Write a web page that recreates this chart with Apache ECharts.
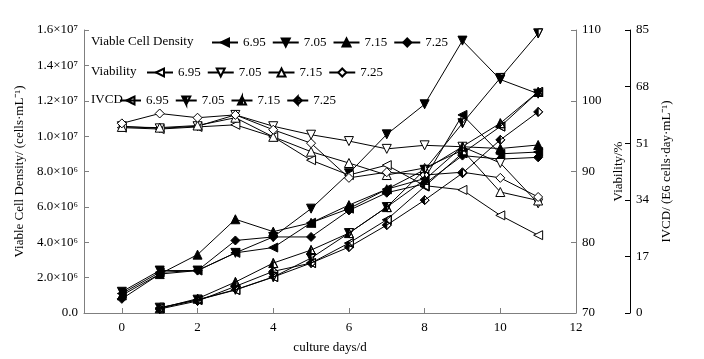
<!doctype html>
<html><head><meta charset="utf-8" />
<style>
  html,body,#app{margin:0;padding:0;width:704px;height:359px;background:#ffffff}
</style>
<script src="https://cdn.jsdelivr.net/npm/echarts@6/dist/echarts.min.js"></script>
</head><body><div id="app"></div>
<script>
// culture days
const days = [0, 1, 2, 3, 4, 5, 6, 7, 8, 9, 10, 11];
const phLevels = ['6.95', '7.05', '7.15', '7.25'];

// viable cell density, x10^6 cells/mL
const vcd695 = [1.1, 2.3, 2.4, 3.4, 3.7, 5.1, 5.9, 7.0, 7.6, 11.2, 9.0, 9.1];
const vcd705 = [1.2, 2.4, 2.4, 3.4, 4.3, 5.9, 7.9, 10.1, 11.8, 15.4, 13.2, 12.4];
const vcd715 = [1.0, 2.2, 3.3, 5.3, 4.6, 5.1, 6.1, 7.0, 8.1, 9.4, 9.3, 9.5];
const vcd725 = [0.8, 2.2, 2.4, 4.1, 4.3, 4.3, 5.8, 6.8, 7.3, 8.9, 8.7, 8.8];

// viability, %
const via695 = [96.2, 96.0, 96.3, 96.6, 94.9, 91.6, 89.5, 90.9, 88.0, 87.4, 83.8, 81.0];
const via705 = [96.4, 96.1, 96.4, 98.0, 96.4, 95.2, 94.3, 93.2, 93.7, 93.5, 91.2, 85.5];
const via715 = [96.3, 96.2, 96.5, 97.6, 94.9, 92.8, 91.2, 89.5, 90.5, 93.0, 87.1, 85.9];
const via725 = [96.8, 98.2, 97.6, 98.0, 95.9, 94.0, 89.1, 89.9, 89.5, 89.9, 89.1, 86.4];

// IVCD, E6 cells·day/mL (no value on day 0)
const ivcd695 = [null, 1.5, 3.9, 6.9, 10.8, 15.0, 21.0, 28.0, 38.0, 48.0, 56.0, 66.4];
const ivcd705 = [null, 1.6, 4.0, 7.0, 10.8, 16.5, 24.0, 31.8, 43.0, 57.0, 70.6, 84.0];
const ivcd715 = [null, 1.4, 4.3, 9.3, 15.0, 18.9, 24.0, 31.8, 40.0, 50.0, 57.0, 66.4];
const ivcd725 = [null, 1.2, 3.6, 8.0, 12.5, 15.0, 19.8, 26.4, 33.9, 42.0, 52.0, 60.4];

// tick labels
const xTicks = [0, 2, 4, 6, 8, 10, 12];
const vcdTickLabels = ['0.0', '2.0×10⁶', '4.0×10⁶', '6.0×10⁶', '8.0×10⁶', '1.0×10⁷', '1.2×10⁷', '1.4×10⁷', '1.6×10⁷'];

const FONT = "'Liberation Serif', 'Times New Roman', serif";

// marker shapes: filled/open use the outline; half = left half filled, right half outline only
const shapes = {
  left: 'path://M0,5L10,0L10,10Z',
  down: 'path://M0,0L10,0L5,10Z',
  up: 'path://M5,0L10,10L0,10Z',
  diamond: 'path://M5,0L10,5L5,10L0,5Z'
};
const halfShapes = {
  left: 'path://M0,5L5,2.5L5,7.5Z M5,2.5L10,0L10,10L5,7.5L10,10L10,0L5,2.5',
  down: 'path://M0,0L5,0L5,10Z M5,0L10,0L5,10L10,0L5,0',
  up: 'path://M5,0L5,10L0,10Z M5,0L10,10L5,10L10,10L5,0',
  diamond: 'path://M5,0L5,10L0,5Z M5,0L10,5L5,10L10,5L5,0'
};
const shapeOrder = ['left', 'down', 'up', 'diamond'];

function mk(group, i, arr, yIdx, kind) {
  const key = shapeOrder[i];
  return {
    name: group + ' ' + phLevels[i],
    type: 'line',
    yAxisIndex: yIdx,
    data: days.map((d, k) => [d, arr[k]]),
    symbol: kind === 'half' ? halfShapes[key] : shapes[key],
    symbolSize: 9,
    showSymbol: true,
    lineStyle: { color: '#000', width: 1 },
    itemStyle: { color: kind === 'open' ? '#fff' : '#000', borderColor: '#000', borderWidth: 1 },
    emphasis: { disabled: true }
  };
}

const series = [
  mk('VCD', 0, vcd695, 0, 'fill'), mk('VCD', 1, vcd705, 0, 'fill'), mk('VCD', 2, vcd715, 0, 'fill'), mk('VCD', 3, vcd725, 0, 'fill'),
  mk('VIA', 0, via695, 1, 'open'), mk('VIA', 1, via705, 1, 'open'), mk('VIA', 2, via715, 1, 'open'), mk('VIA', 3, via725, 1, 'open'),
  mk('IVCD', 0, ivcd695, 2, 'half'), mk('IVCD', 1, ivcd705, 2, 'half'), mk('IVCD', 2, ivcd715, 2, 'half'), mk('IVCD', 3, ivcd725, 2, 'half')
];

function legendRow(group, left, top, w) {
  return {
    data: phLevels.map(p => group + ' ' + p),
    left: left, top: top, orient: 'horizontal', padding: 0,
    itemGap: 6, itemWidth: w, itemHeight: 10,
    selectedMode: false,
    formatter: n => n.split(' ')[1],
    textStyle: { fontFamily: FONT, fontSize: 13, color: '#000' }
  };
}

const rowTitle = (text, top) => ({
  text: text, left: 91, top: top, padding: 0,
  textStyle: { fontFamily: FONT, fontSize: 13, fontWeight: 'normal', color: '#000' }
});

const gray = '#7f7f7f';
const el = document.getElementById('app');
const chart = echarts.init(el, null, { renderer: 'canvas' });
chart.setOption({
  animation: false,
  backgroundColor: '#ffffff',
  textStyle: { fontFamily: FONT },
  title: [rowTitle('Viable Cell Density', 35), rowTitle('Viability', 65), rowTitle('IVCD', 93)],
  legend: [legendRow('VCD', 211, 36, 26), legendRow('VIA', 146, 66, 26), legendRow('IVCD', 119, 94, 21)],
  grid: { left: 84, right: 128, top: 30, bottom: 46 },
  xAxis: {
    type: 'value', min: -1, max: 12,
    name: 'culture days/d', nameLocation: 'middle', nameGap: 28,
    nameTextStyle: { fontFamily: FONT, fontSize: 13, color: '#000' },
    axisLine: { onZero: false, lineStyle: { color: gray } },
    axisTick: { inside: true, length: 5, customValues: xTicks, lineStyle: { color: gray } },
    axisLabel: { customValues: xTicks, margin: 8, fontFamily: FONT, fontSize: 13, color: '#000' },
    splitLine: { show: false }
  },
  yAxis: [
    {
      type: 'value', position: 'left', min: 0, max: 16, interval: 2,
      name: 'Viable Cell Density/ (cells·mL⁻¹)', nameLocation: 'middle', nameRotate: 90, nameGap: 58,
      nameTextStyle: { fontFamily: FONT, fontSize: 13, color: '#000' },
      axisLine: { show: true, onZero: false, lineStyle: { color: gray } },
      axisTick: { inside: true, length: 5, lineStyle: { color: gray } },
      axisLabel: { margin: 6, fontFamily: FONT, fontSize: 13, color: '#000', formatter: v => vcdTickLabels[Math.round(v / 2)] },
      splitLine: { show: false }
    },
    {
      type: 'value', position: 'right', min: 70, max: 110, interval: 10,
      name: 'Viability/%', nameLocation: 'middle', nameRotate: 90, nameGap: 24,
      nameTextStyle: { fontFamily: FONT, fontSize: 13, color: '#000' },
      axisLine: { show: true, onZero: false, lineStyle: { color: gray } },
      axisTick: { inside: true, length: 5, lineStyle: { color: gray } },
      axisLabel: { margin: 6, fontFamily: FONT, fontSize: 13, color: '#000' },
      splitLine: { show: false }
    },
    {
      type: 'value', position: 'right', offset: 54, min: 0, max: 85, interval: 17,
      name: 'IVCD/ (E6 cells·day·mL⁻¹)', nameLocation: 'middle', nameRotate: 90, nameGap: 30,
      nameTextStyle: { fontFamily: FONT, fontSize: 13, color: '#000' },
      axisLine: { show: true, onZero: false, lineStyle: { color: '#000' } },
      axisTick: { inside: true, length: 5, lineStyle: { color: '#000' } },
      axisLabel: { margin: 6, fontFamily: FONT, fontSize: 13, color: '#000' },
      splitLine: { show: false }
    }
  ],
  series: series
});
window.chartReady = true;
</script></body></html>
